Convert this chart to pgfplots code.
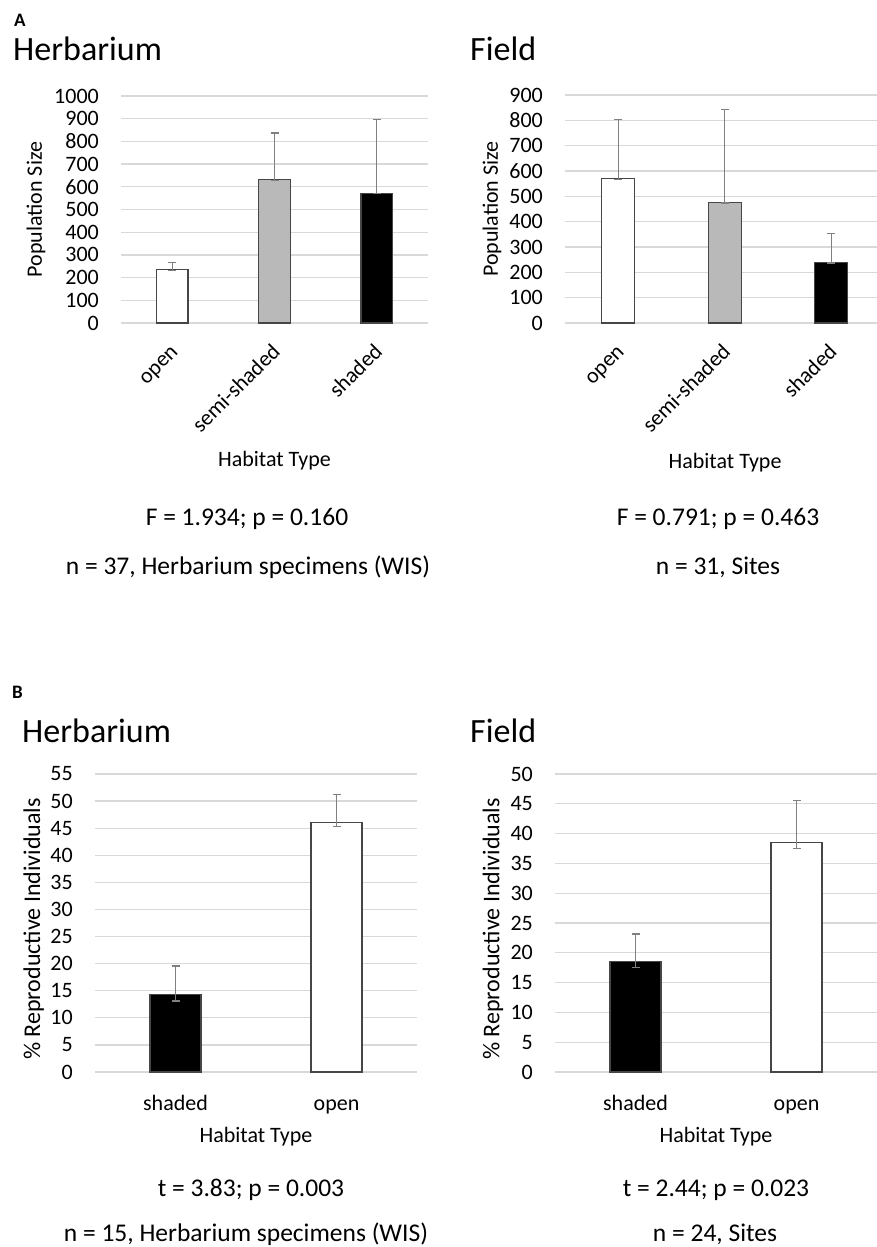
\documentclass[border=0pt]{standalone}
\usepackage{fontspec}
\setmainfont{Carlito}
\usepackage{pgfplots}
\pgfplotsset{compat=1.18}
\definecolor{gridc}{RGB}{217,217,217}
\definecolor{barc}{RGB}{185,185,185}
\definecolor{edgec}{RGB}{70,70,70}
\definecolor{errc}{RGB}{128,128,128}
\newcommand\fs[1]{\fontsize{#1}{#1}\selectfont}
\pgfplotsset{
  panel/.style={scale only axis, anchor=south west, ymin=0, xmin=-0.5,
    axis line style={draw=none}, major tick length=0pt, tick style={draw=none},
    ymajorgrids, grid style={draw=gridc, line width=1.3pt},
    ticklabel style={font=\fs{22pt}},
    yticklabel style={anchor=east, inner sep=0pt, xshift=-22pt},
    /pgf/number format/assume math mode=true,
    /pgf/number format/1000 sep={},
    clip=false,
    label style={font=\fs{22pt}}},
  bars/.style={ybar, bar shift=0pt, draw=edgec, line width=1.2pt,
    error bars/y dir=both, error bars/y explicit,
    error bars/error bar style={draw=errc, line width=1.2pt},
    error bars/error mark options={rotate=90, mark size=4pt, draw=errc, line width=1.2pt}},
  rotlab/.style={xticklabel style={xshift=3pt, yshift=-26pt, rotate=45, anchor=east, inner sep=0pt, text height=16.5pt, text depth=5.5pt}},
}
\begin{document}
\begin{tikzpicture}[x=1pt,y=1pt]
\path[use as bounding box] (0pt,0pt) rectangle (877pt,-1247pt);
% titles
\node[anchor=base west, inner sep=0pt, font=\fs{19pt}\bfseries] at (14pt,-27pt) {A};
\node[anchor=base west, inner sep=0pt, font=\fs{34pt}] at (13pt,-60pt) {Herbarium};
\node[anchor=base west, inner sep=0pt, font=\fs{34pt}] at (470pt,-60pt) {Field};
\node[anchor=base west, inner sep=0pt, font=\fs{19pt}\bfseries] at (12pt,-698pt) {B};
\node[anchor=base west, inner sep=0pt, font=\fs{34pt}] at (22pt,-742pt) {Herbarium};
\node[anchor=base west, inner sep=0pt, font=\fs{34pt}] at (470pt,-742pt) {Field};
% stats
\node[anchor=base, inner sep=0pt, font=\fs{25.5pt}] at (247pt,-525pt) {F = 1.934; p = 0.160};
\node[anchor=base, inner sep=0pt, font=\fs{25.5pt}] at (248pt,-574pt) {n = 37, Herbarium specimens (WIS)};
\node[anchor=base, inner sep=0pt, font=\fs{25.5pt}] at (718pt,-525pt) {F = 0.791; p = 0.463};
\node[anchor=base, inner sep=0pt, font=\fs{25.5pt}] at (718pt,-574pt) {n = 31, Sites};
\node[anchor=base, inner sep=0pt, font=\fs{25.5pt}] at (251pt,-1196pt) {t = 3.83; p = 0.003};
\node[anchor=base, inner sep=0pt, font=\fs{25.5pt}] at (246pt,-1241pt) {n = 15, Herbarium specimens (WIS)};
\node[anchor=base, inner sep=0pt, font=\fs{25.5pt}] at (716pt,-1196pt) {t = 2.44; p = 0.023};
\node[anchor=base, inner sep=0pt, font=\fs{25.5pt}] at (715pt,-1241pt) {n = 24, Sites};

% A Herbarium
\begin{axis}[panel, at={(121pt,-323pt)}, width=307pt, height=227pt,
  xmax=2.5, ymax=1000, ytick={0,100,...,1000},
  xtick={0,1,2}, xticklabels={open,semi-shaded,shaded}, rotlab,
  xlabel={Habitat Type}, xlabel style={at={(axis description cs:0.5,-0.634)}, anchor=base},
  ylabel={Population Size}, ylabel style={at={(axis description cs:-0.277,0.5)}, anchor=center}]
\addplot[bars, fill=white, bar width=0.31] coordinates {(0,234) += (0,34) -= (0,3)};
\addplot[bars, fill=barc, bar width=0.31] coordinates {(1,632) += (0,205) -= (0,3)};
\addplot[bars, fill=black, bar width=0.31] coordinates {(2,572) += (0,324) -= (0,3)};
\end{axis}

% A Field
\begin{axis}[panel, at={(565pt,-323pt)}, width=312pt, height=228pt,
  xmax=2.43, ymax=900, ytick={0,100,...,900},
  xtick={0,1,2}, xticklabels={open,semi-shaded,shaded}, rotlab,
  xlabel={Habitat Type}, xlabel style={at={(axis description cs:0.513,-0.636)}, anchor=base},
  ylabel={Population Size}, ylabel style={at={(axis description cs:-0.234,0.5)}, anchor=center}]
\addplot[bars, fill=white, bar width=0.31] coordinates {(0,569) += (0,235) -= (0,3)};
\addplot[bars, fill=barc, bar width=0.31] coordinates {(1,477) += (0,367) -= (0,3)};
\addplot[bars, fill=black, bar width=0.31] coordinates {(2,240) += (0,113) -= (0,3)};
\end{axis}

% B Herbarium
\begin{axis}[panel, at={(95pt,-1072pt)}, width=322pt, height=298pt,
  xmax=1.5, ymax=55, ytick={0,5,...,55},
  xtick={0,1}, xticklabels={shaded,open}, xticklabel style={anchor=base, yshift=-38pt},
  xlabel={Habitat Type}, xlabel style={at={(axis description cs:0.5,-0.235)}, anchor=base},
  ylabel={\% Reproductive Individuals}, ylabel style={font=\fs{24pt}, at={(axis description cs:-0.19,0.48)}, anchor=center}]
\addplot[bars, fill=black, bar width=0.317] coordinates {(0,14.3) += (0,5.25) -= (0,1.2)};
\addplot[bars, fill=white, bar width=0.317] coordinates {(1,46.05) += (0,5.1) -= (0,0.8)};
\end{axis}

% B Field
\begin{axis}[panel, at={(555pt,-1072pt)}, width=322pt, height=298pt,
  xmax=1.5, ymax=50, ytick={0,5,...,50},
  xtick={0,1}, xticklabels={shaded,open}, xticklabel style={anchor=base, yshift=-38pt},
  xlabel={Habitat Type}, xlabel style={at={(axis description cs:0.5,-0.235)}, anchor=base},
  ylabel={\% Reproductive Individuals}, ylabel style={font=\fs{24pt}, at={(axis description cs:-0.193,0.48)}, anchor=center}]
\addplot[bars, fill=black, bar width=0.317] coordinates {(0,18.57) += (0,4.6) -= (0,1.0)};
\addplot[bars, fill=white, bar width=0.317] coordinates {(1,38.48) += (0,7.1) -= (0,1.0)};
\end{axis}
\end{tikzpicture}
\end{document}
